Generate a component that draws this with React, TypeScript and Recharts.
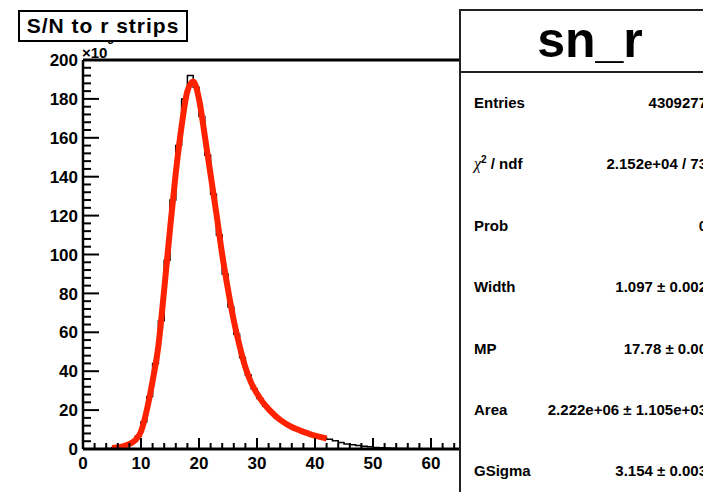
import React from 'react'
import { ComposedChart, Line, XAxis, YAxis, ReferenceLine } from 'recharts'

// histogram sn_r, counts in units of 10^3, bins of width 1 starting at 0
const histStart = 0
const histBinWidth = 1
const histCounts = [
  0, 0, 0, 0, 0.3, 0.8, 1.3, 2.2, 3.6, 6.5,
  14, 27, 44, 66, 97, 128, 156, 180, 192, 186,
  171, 151, 131, 110, 90, 73, 59, 47, 38, 31,
  26, 22, 19, 16, 14, 12, 10.5, 9.3, 8.3, 7.3,
  6.5, 5.7, 5, 4.2, 3.4, 2.6, 2.2, 1.8, 1.4, 1.1,
  0.8, 0.65, 0.5, 0.4, 0.3, 0.22, 0.17, 0.13, 0.1, 0.08,
  0.06, 0.05, 0.04, 0.03, 0.02
]

// landau x gauss fit curve
const fitX = [
  5, 6, 7, 8, 9, 10, 11, 12, 13, 14, 15, 16, 17, 18, 19, 20, 21, 22, 23,
  24, 25, 26, 27, 28, 29, 30, 31, 32, 33, 34, 35, 36, 37, 38, 39, 40, 41, 42
]
const fitY = [
  0.5, 0.8, 1.5, 2.6, 4.5, 9, 20, 35, 53, 82, 113, 142, 166, 184, 189, 180, 161, 141, 121,
  100, 82, 66, 53, 42, 34, 28.5, 24, 20.5, 17.5, 15, 13, 11.3, 10, 8.8, 7.8, 6.9, 6.1, 5.4
]

const xTicks = [0, 2, 4, 6, 8, 10, 12, 14, 16, 18, 20, 22, 24, 26, 28, 30, 32, 34, 36, 38, 40, 42, 44, 46, 48, 50, 52, 54, 56, 58, 60, 62, 64]
const yTicks = [0, 4, 8, 12, 16, 20, 24, 28, 32, 36, 40, 44, 48, 52, 56, 60, 64, 68, 72, 76, 80, 84, 88, 92, 96, 100, 104, 108, 112, 116, 120, 124, 128, 132, 136, 140, 144, 148, 152, 156, 160, 164, 168, 172, 176, 180, 184, 188, 192, 196, 200]

const statLabels = ['Entries', 'χ2 / ndf', 'Prob', 'Width', 'MP', 'Area', 'GSigma']
const statValues = ['4309277', '2.152e+04 / 73', '0', '1.097 ± 0.002', '17.78 ± 0.00', '2.222e+06 ± 1.105e+03', '3.154 ± 0.003']

const histData = histCounts.map((c, i) => ({ x: histStart + i * histBinWidth, y: c }))
histData.push({ x: histStart + histCounts.length * histBinWidth, y: histCounts[histCounts.length - 1] })
const fitData = fitX.map((x, i) => ({ x, y: fitY[i] }))

const font = "'Liberation Sans', Arial, Helvetica, sans-serif"

const YTick = (props: any) => {
  const { x, y, payload } = props
  const major = payload.value % 20 === 0
  return (
    <g>
      <line x1={x} x2={x + (major ? 16 : 8)} y1={y} y2={y} stroke='#000' strokeWidth={2} />
      {major && (
        <text x={x - 5} y={y} dy='0.36em' textAnchor='end' fontFamily={font} fontWeight='bold' fontSize={17} fill='#000'>
          {payload.value}
        </text>
      )}
    </g>
  )
}

const XTick = (props: any) => {
  const { x, y, payload } = props
  const major = payload.value % 10 === 0
  return (
    <g>
      <line x1={x} x2={x} y1={y} y2={y - (major ? 11 : 6)} stroke='#000' strokeWidth={2} />
      {major && (
        <text x={x} y={y + 20} textAnchor='middle' fontFamily={font} fontWeight='bold' fontSize={17} fill='#000'>
          {payload.value}
        </text>
      )}
    </g>
  )
}

export default function App () {
  return (
    <div style={{ position: 'absolute', left: 0, top: 0, width: 703, height: 492, overflow: 'hidden', background: '#fff', fontFamily: font }}>
      <div style={{ position: 'absolute', left: 0, top: 0 }}>
        <ComposedChart width={460} height={492} margin={{ top: 60, right: 0, bottom: 13, left: 23 }}>
          <XAxis
            type='number'
            dataKey='x'
            domain={[0, 65]}
            ticks={xTicks}
            interval={0}
            allowDataOverflow
            height={30}
            tickSize={0}
            tickMargin={0}
            tick={(p: any) => <XTick {...p} />}
            axisLine={{ stroke: '#000', strokeWidth: 3 }}
          />
          <YAxis
            type='number'
            domain={[0, 200]}
            ticks={yTicks}
            interval={0}
            allowDataOverflow
            width={60}
            tickSize={0}
            tickMargin={0}
            tick={(p: any) => <YTick {...p} />}
            axisLine={{ stroke: '#000', strokeWidth: 2.5 }}
          />
          <ReferenceLine y={200} stroke='#000' strokeWidth={3} />
          <Line
            data={histData}
            dataKey='y'
            type='stepAfter'
            stroke='#000'
            strokeWidth={1.5}
            dot={false}
            isAnimationActive={false}
          />
          <Line
            data={fitData}
            dataKey='y'
            type='monotone'
            stroke='#ff2200'
            strokeWidth={6}
            dot={false}
            isAnimationActive={false}
          />
        </ComposedChart>
      </div>

      {/* y axis multiplier, exponent tucked under the title box */}
      <div style={{ position: 'absolute', left: 82, top: 40, fontSize: 15, fontWeight: 'bold', lineHeight: '16px' }}>
        ×10<sup style={{ fontSize: 11, position: 'relative', top: -8 }}>3</sup>
      </div>

      {/* title */}
      <div style={{
        position: 'absolute', left: 18, top: 10, width: 166, height: 28, border: '2px solid #000', background: '#fff',
        fontSize: 21, fontWeight: 'bold', lineHeight: '28px', textAlign: 'center', letterSpacing: 1
      }}>
        S/N to r strips
      </div>

      {/* stats box */}
      <div style={{ position: 'absolute', left: 459, top: 9, width: 258, height: 520, border: '2px solid #222', background: '#fff' }}>
        <div style={{ height: 60, borderBottom: '2px solid #222', textAlign: 'center', fontSize: 50, fontWeight: 'bold', lineHeight: '58px' }}>
          sn_r
        </div>
        {statLabels.map((label, i) => (
          <div key={label} style={{ position: 'absolute', left: 0, right: 0, top: 81 + i * 61.4, height: 22, lineHeight: '22px', fontSize: 15, fontWeight: 'bold' }}>
            <span style={{ position: 'absolute', left: 13 }}>
              {label === 'χ2 / ndf'
                ? <span><span style={{ fontFamily: "'Liberation Serif', serif", fontStyle: 'italic', fontWeight: 'normal', fontSize: 16 }}>χ</span><sup style={{ fontSize: 10, lineHeight: 0 }}>2</sup> / ndf</span>
                : label}
            </span>
            <span style={{ position: 'absolute', right: 12 }}>{statValues[i]}</span>
          </div>
        ))}
      </div>
    </div>
  )
}
